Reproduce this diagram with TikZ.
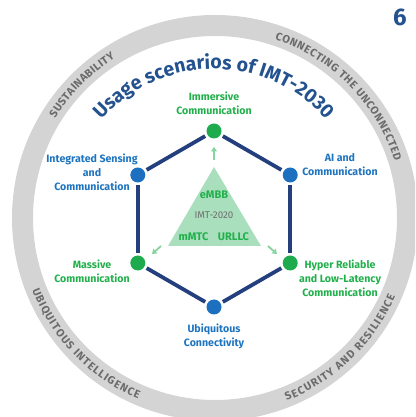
\documentclass[tikz,border=0pt]{standalone}
\usepackage{fontspec}
\setmainfont{Fira Sans}
\usetikzlibrary{decorations.text,arrows.meta}
\definecolor{navy}{HTML}{243F7E}
\definecolor{titleblue}{HTML}{23528F}
\definecolor{dgreen}{HTML}{1DAB4E}
\definecolor{dblue}{HTML}{1D6FBF}
\definecolor{tgreen}{HTML}{22B04C}
\definecolor{tblue}{HTML}{1E74BF}
\definecolor{ringgray}{HTML}{D4D4D4}
\definecolor{ringtext}{HTML}{6B6B6B}
\definecolor{trigreen}{HTML}{AADFBE}
\definecolor{arrgreen}{HTML}{86D49E}
\definecolor{midgray}{HTML}{6E6E6E}
\newcommand\myringfont{\fontsize{11}{11}\selectfont\bfseries}
\newcommand\mytitlefont{\fontsize{19.5}{19.5}\selectfont\bfseries}
\begin{document}
\begin{tikzpicture}[x=1pt,y=1pt,
  dotg/.style={circle,fill=dgreen,inner sep=0pt,minimum size=15pt},
  dotb/.style={circle,fill=dblue,inner sep=0pt,minimum size=15pt},
  edge/.style={navy,line width=3.8pt,shorten <=2.5pt,shorten >=2.5pt},
  lab/.style={align=center,font=\fontsize{10.6}{14.2}\selectfont\bfseries,inner sep=0pt},
  glab/.style={lab,text=tgreen},
  blab/.style={lab,text=tblue},
  tri/.style={text=tgreen,font=\fontsize{11}{11}\selectfont\bfseries},
  garrow/.style={arrgreen,line width=1.8pt,-{Triangle[width=6pt,length=4.5pt]}},
  ringtxt/.style={decorate,decoration={text along path,text={|\myringfont|#1},text align={fit to path},text color=ringtext}}
]
\useasboundingbox (0,0) rectangle (415,417);
\clip (0,0) rectangle (415,417);
\coordinate (rc) at (215,199);
\coordinate (hc) at (214,198);
% ring
\draw[ringgray,line width=21pt] (rc) circle[radius=192.5];
\path[ringtxt=SUSTAINABILITY] (rc) ++(148:188.5) arc[start angle=148,end angle=122,radius=188.5];
\path[ringtxt=CONNECTING THE UNCONNECTED] (rc) ++(71.5:188.5) arc[start angle=71.5,end angle=17.6,radius=188.5];
\path[ringtxt=UBIQUITOUS INTELLIGENCE] (rc) ++(201.5:196.5) arc[start angle=201.5,end angle=247,radius=196.5];
\path[ringtxt=SECURITY AND RESILIENCE] (rc) ++(291.4:196.5) arc[start angle=291.4,end angle=336.5,radius=196.5];
% title
\path[decorate,decoration={text along path,text={|\mytitlefont|Usage scenarios of IMT-2030},text align=center,text color=titleblue}]
  (hc) ++(160:150) arc[start angle=160,end angle=20,radius=150];
% page number
\node[text=titleblue,font=\fontsize{24}{24}\selectfont\bfseries] (pg) at (400,400) {6};
% triangle
\coordinate (ta) at (214,250);
\coordinate (tl) at (168,171);
\coordinate (tr) at (261,171);
\fill[trigreen] (ta) -- (tl) -- (tr) -- cycle;
\node[tri] (embb) at (214,222) {eMBB};
\node[text=midgray,font=\fontsize{9.8}{10}\selectfont] (imt) at (214,202) {IMT-2020};
\node[tri] (mmtc) at (193.5,180) {mMTC};
\node[tri] (urllc) at (233.5,180) {URLLC};
% arrows
\coordinate (a1s) at (214,257);
\coordinate (a1e) at (214,270);
\coordinate (a2s) at (161,171);
\coordinate (a2e) at (152,163);
\coordinate (a3s) at (268,171);
\coordinate (a3e) at (277,163);
\draw[garrow] (a1s) -- (a1e);
\draw[garrow] (a2s) -- (a2e);
\draw[garrow] (a3s) -- (a3e);
% hexagon
\node[dotg] (v1) at (214,286) {};
\node[dotb] (v2) at (290.2,242) {};
\node[dotg] (v3) at (290.2,154) {};
\node[dotb] (v4) at (214,110) {};
\node[dotg] (v5) at (137.8,154) {};
\node[dotb] (v6) at (137.8,242) {};
\draw[edge] (v1) -- (v2);
\draw[edge] (v2) -- (v3);
\draw[edge] (v3) -- (v4);
\draw[edge] (v4) -- (v5);
\draw[edge] (v5) -- (v6);
\draw[edge] (v6) -- (v1);
% labels
\node[glab] (l1) at (214,313.5) {Immersive\\Communication};
\node[blab] (l2) at (340,252.5) {AI and\\Communication};
\node[glab] (l3) at (340,139) {Hyper Reliable\\and Low-Latency\\Communication};
\node[blab] (l4) at (214,80.5) {Ubiquitous\\Connectivity};
\node[glab] (l5) at (92,146) {Massive\\Communication};
\node[blab] (l6) at (92,245) {Integrated Sensing\\and\\Communication};
\end{tikzpicture}
\end{document}
